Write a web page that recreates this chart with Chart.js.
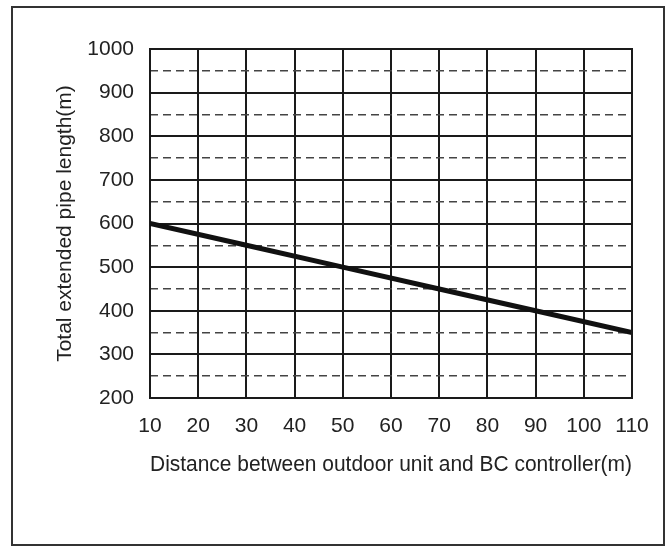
<!DOCTYPE html>
<html>
<head>
<meta charset="utf-8">
<script src="https://cdn.jsdelivr.net/npm/chart.js@4/dist/chart.umd.min.js"></script>
<style>
  html, body { margin: 0; padding: 0; background: #fff; }
  #wrap { position: relative; width: 672px; height: 547px; }
  #frame { position: absolute; left: 11px; top: 6px; width: 654px; height: 540px;
           box-sizing: border-box; border: 2px solid #333; pointer-events: none; }
  canvas { position: absolute; left: 0; top: 0; }
</style>
</head>
<body>
<div id="wrap">
  <canvas id="c" width="672" height="547"></canvas>
  <div id="frame"></div>
</div>
<script>
// Data
const distances = [10, 30, 50, 70, 90, 110];          // Distance between outdoor unit and BC controller (m)
const pipeLengths = [600, 550, 500, 450, 400, 350];   // Total extended pipe length (m)
const xTickValues = [10, 20, 30, 40, 50, 60, 70, 80, 90, 100, 110];
const yTickValues = [200, 300, 400, 500, 600, 700, 800, 900, 1000];
const yDashedValues = [250, 350, 450, 550, 650, 750, 850, 950];
const xTitle = 'Distance between outdoor unit and BC controller(m)';
const yTitle = 'Total extended pipe length(m)';

const FONT = 'Liberation Sans, Arial, Helvetica, sans-serif';
const TEXT = '#222';
const FS = 21;

const points = distances.map((d, i) => ({ x: d, y: pipeLengths[i] }));

new Chart(document.getElementById('c'), {
  type: 'line',
  data: {
    datasets: [{
      data: points,
      borderColor: '#111',
      borderWidth: 5,
      pointRadius: 0,
      fill: false,
      tension: 0,
      borderCapStyle: 'butt'
    }]
  },
  options: {
    responsive: false,
    animation: false,
    events: [],
    layout: { padding: { left: 0, right: 40, top: 49, bottom: 69 } },
    plugins: { legend: { display: false }, tooltip: { enabled: false } },
    scales: {
      x: {
        type: 'linear',
        min: 10, max: 110,
        afterBuildTicks: s => { s.ticks = xTickValues.map(v => ({ value: v })); },
        afterFit: s => { s.height = 80; },
        ticks: { color: TEXT, font: { family: FONT, size: FS }, padding: 16, maxRotation: 0, autoSkip: false,
                 callback: v => String(v) },
        grid: { color: '#1a1a1a', lineWidth: 2, drawTicks: false },
        border: { display: true, color: '#1a1a1a', width: 2 },
        title: { display: true, text: xTitle, color: TEXT,
                 font: { family: FONT, size: 21.5 }, padding: { top: 0, bottom: 0 } }
      },
      y2: {
        type: 'linear',
        position: 'left',
        min: 200, max: 1000,
        afterBuildTicks: s => { s.ticks = yDashedValues.map(v => ({ value: v })); },
        afterFit: s => { s.width = 0; },
        ticks: { display: false },
        grid: { color: '#444', lineWidth: 1.5, drawTicks: false },
        border: { display: false, dash: [8, 5] }
      },
      y: {
        type: 'linear',
        position: 'left',
        min: 200, max: 1000,
        afterBuildTicks: s => { s.ticks = yTickValues.map(v => ({ value: v })); },
        afterFit: s => { s.width = 150; },
        ticks: { color: TEXT, font: { family: FONT, size: FS }, padding: 16, autoSkip: false,
                 callback: v => String(v) },
        grid: { color: '#1a1a1a', lineWidth: 2, drawTicks: false },
        border: { display: true, color: '#1a1a1a', width: 2 },
        title: { display: true, text: yTitle, color: TEXT,
                 font: { family: FONT, size: FS }, padding: { top: 53, bottom: 0 } }
      }
    }
  },
  plugins: [{
    id: 'rightTopBorder',
    afterDraw(chart) {
      const { ctx, chartArea: a } = chart;
      ctx.save();
      ctx.strokeStyle = '#1a1a1a';
      ctx.lineWidth = 2;
      ctx.beginPath();
      ctx.moveTo(a.left, a.top);
      ctx.lineTo(a.right, a.top);
      ctx.lineTo(a.right, a.bottom);
      ctx.stroke();
      ctx.restore();
    }
  }]
});
</script>
</body>
</html>
